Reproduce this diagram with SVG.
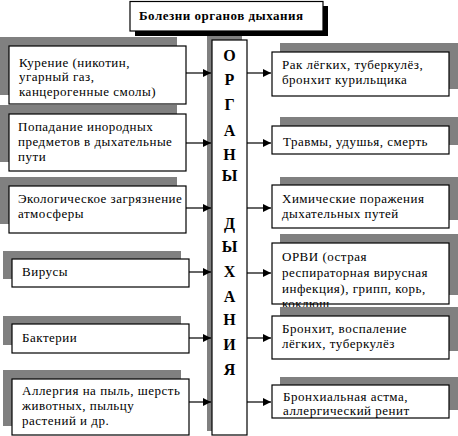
<svg xmlns="http://www.w3.org/2000/svg" width="458" height="436" viewBox="0 0 458 436" font-family="'Liberation Serif', 'Times New Roman', serif">
<defs>
<style>
.sh{fill:#808080;stroke:none}
.bx{fill:#fff;stroke:#000;stroke-width:1.2}
.t{font-family:'Liberation Serif','Times New Roman',serif;font-size:13px;letter-spacing:0.5px;fill:#000}
.tb{font-family:'Liberation Serif','Times New Roman',serif;font-size:13px;font-weight:bold;letter-spacing:0.5px;fill:#000}
.cl{font-family:'Liberation Serif','Times New Roman',serif;font-size:16px;font-weight:bold;text-anchor:middle;fill:#000}
.ln{stroke:#000;stroke-width:1.2;fill:none;marker-end:url(#ah)}
</style>
<marker id="ah" markerUnits="userSpaceOnUse" markerWidth="9" markerHeight="8" refX="8" refY="4" orient="auto">
<path d="M0,0 L8,4 L0,8 Z" fill="#000"/>
</marker>
</defs>
<rect width="458" height="436" fill="#fff"/>

<g id="title">
<rect x="135" y="6" width="193" height="30" fill="#000"/>
<rect class="bx" x="130" y="1.5" width="193" height="29.5"/>
<text class="tb" x="139" y="20">Болезни органов дыхания</text>
</g>

<g id="center">
<rect class="sh" x="207" y="36" width="35" height="395"/>
<rect class="bx" x="212" y="40" width="35" height="395"/>
<text class="cl" x="229.5" y="60.5">О</text>
<text class="cl" x="229.5" y="85">Р</text>
<text class="cl" x="229.5" y="110">Г</text>
<text class="cl" x="229.5" y="136">А</text>
<text class="cl" x="229.5" y="160">Н</text>
<text class="cl" x="229.5" y="181">Ы</text>
<text class="cl" x="229.5" y="229">Д</text>
<text class="cl" x="229.5" y="252">Ы</text>
<text class="cl" x="229.5" y="277">Х</text>
<text class="cl" x="229.5" y="302">А</text>
<text class="cl" x="229.5" y="325">Н</text>
<text class="cl" x="229.5" y="350">И</text>
<text class="cl" x="229.5" y="375">Я</text>
</g>

<g id="l1">
<rect class="sh" x="0" y="37" width="177" height="58"/>
<rect class="bx" x="9" y="46" width="177" height="58"/>
<text class="t" x="19" y="66.5">Курение (никотин,</text>
<text class="t" x="19" y="81">угарный газ,</text>
<text class="t" x="19" y="95.5">канцерогенные смолы)</text>
</g>
<g id="l2">
<rect class="sh" x="0" y="105" width="177" height="57"/>
<rect class="bx" x="9" y="114" width="177" height="57"/>
<text class="t" x="18" y="131">Попадание инородных</text>
<text class="t" x="18" y="146">предметов в дыхательные</text>
<text class="t" x="18" y="161">пути</text>
</g>
<g id="l3">
<rect class="sh" x="0" y="177" width="177" height="47"/>
<rect class="bx" x="9" y="186" width="177" height="47"/>
<text class="t" x="18" y="203">Экологическое загрязнение</text>
<text class="t" x="18" y="218">атмосферы</text>
</g>
<g id="l4">
<rect class="sh" x="3" y="251" width="178" height="28"/>
<rect class="bx" x="12" y="259" width="177" height="28"/>
<text class="t" x="22" y="276">Вирусы</text>
</g>
<g id="l5">
<rect class="sh" x="3" y="316" width="178" height="29"/>
<rect class="bx" x="12" y="324" width="177" height="29"/>
<text class="t" x="22" y="342">Бактерии</text>
</g>
<g id="l6">
<rect class="sh" x="3" y="370" width="178" height="56"/>
<rect class="bx" x="12" y="379" width="177" height="56"/>
<text class="t" x="22" y="395">Аллергия на пыль, шерсть</text>
<text class="t" x="22" y="410">животных, пыльцу</text>
<text class="t" x="22" y="424.5">растений и др.</text>
</g>

<g id="r1">
<rect class="sh" x="280" y="43" width="178" height="46"/>
<rect class="bx" x="272" y="52" width="177" height="44"/>
<text class="t" x="282" y="69">Рак лёгких, туберкулёз,</text>
<text class="t" x="282" y="84">бронхит курильщика</text>
</g>
<g id="r2">
<rect class="sh" x="280" y="117" width="178" height="28"/>
<rect class="bx" x="272" y="126" width="177" height="28"/>
<text class="t" x="283" y="146">Травмы, удушья, смерть</text>
</g>
<g id="r3">
<rect class="sh" x="280" y="177" width="178" height="43"/>
<rect class="bx" x="272" y="185" width="177" height="43"/>
<text class="t" x="282" y="203">Химические поражения</text>
<text class="t" x="282" y="217.5">дыхательных путей</text>
</g>
<g id="r4">
<rect class="sh" x="280" y="234" width="178" height="61"/>
<rect class="bx" x="272" y="243" width="177" height="61"/>
<text class="t" x="282" y="261">ОРВИ (острая</text>
<text class="t" x="282" y="277">респираторная вирусная</text>
<text class="t" x="282" y="293">инфекция), грипп, корь,</text>
<text class="t" x="282" y="308">коклюш</text>
</g>
<g id="r5">
<rect class="sh" x="280" y="307" width="178" height="44"/>
<rect class="bx" x="272" y="316" width="177" height="43"/>
<text class="t" x="282" y="333">Бронхит, воспаление</text>
<text class="t" x="282" y="348">лёгких, туберкулёз</text>
</g>
<g id="r6">
<rect class="sh" x="280" y="377" width="178" height="33"/>
<rect class="bx" x="272" y="385" width="177" height="33"/>
<text class="t" x="283" y="400.5">Бронхиальная астма,</text>
<text class="t" x="283" y="415">аллергический ренит</text>
</g>

<g id="connectors">
<line class="ln" x1="186" y1="73" x2="211" y2="73"/>
<line class="ln" x1="186" y1="143" x2="211" y2="143"/>
<line class="ln" x1="186" y1="208" x2="211" y2="208"/>
<line class="ln" x1="189" y1="272" x2="211" y2="272"/>
<line class="ln" x1="189" y1="338" x2="211" y2="338"/>
<line class="ln" x1="189" y1="402" x2="211" y2="402"/>
<line class="ln" x1="247" y1="73" x2="271" y2="73"/>
<line class="ln" x1="247" y1="143" x2="271" y2="143"/>
<line class="ln" x1="247" y1="208" x2="271" y2="208"/>
<line class="ln" x1="247" y1="273" x2="271" y2="273"/>
<line class="ln" x1="247" y1="338" x2="271" y2="338"/>
<line class="ln" x1="247" y1="402" x2="271" y2="402"/>
</g>
</svg>
